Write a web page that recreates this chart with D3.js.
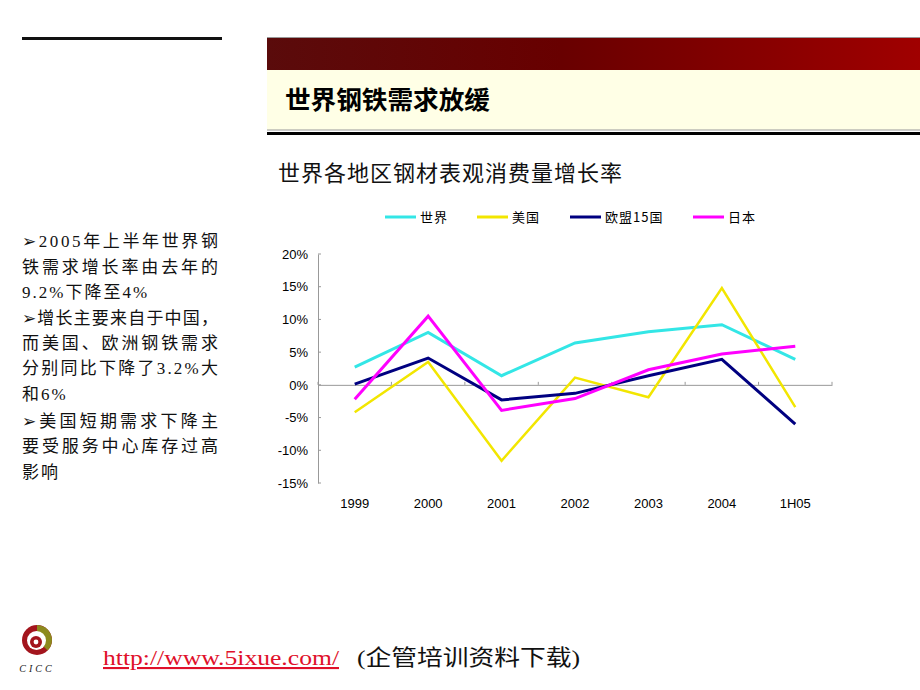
<!DOCTYPE html>
<html><head><meta charset="utf-8">
<script src="https://cdn.jsdelivr.net/npm/d3@7"></script>
<style>
html,body{margin:0;padding:0;background:#fff;}
svg{display:block;}
</style></head>
<body>
<svg id="c" width="920" height="690"></svg>
<script>
// ---- data ----
const categories = ["1999","2000","2001","2002","2003","2004","1H05"];
const seriesNames = ["世界","美国","欧盟15国","日本"];
const seriesColors = ["#33e6e6","#f2e600","#000080","#ff00ff"];
const world = [2.7, 8.0, 1.4, 6.4, 8.1, 9.2, 3.9];
const usa   = [-4.2, 3.5, -11.6, 1.1, -1.9, 14.8, -3.4];
const eu15  = [0.1, 4.1, -2.3, -1.3, 1.4, 3.9, -6.0];
const japan = [-2.2, 10.5, -3.9, -2.1, 2.3, 4.7, 5.9];
const yTicks = [20, 15, 10, 5, 0, -5, -10, -15];
const headerTitle = "世界钢铁需求放缓";
const chartTitle = "世界各地区钢材表观消费量增长率";
const bulletLines = [
  "➢2005年上半年世界钢",
  "铁需求增长率由去年的",
  "9.2%下降至4%",
  "➢增长主要来自于中国，",
  "而美国、欧洲钢铁需求",
  "分别同比下降了3.2%大",
  "和6%",
  "➢美国短期需求下降主",
  "要受服务中心库存过高",
  "影响"
];
const bulletFull = [true, true, false, true, true, true, false, true, true, false];
const bulletY = [247, 273, 298, 324, 349, 374, 400, 427, 452, 478];
const footerUrl = "http://www.5ixue.com/";
const footerNote = "(企管培训资料下载)";

const series = [world, usa, eu15, japan];

const svg = d3.select("#c");
const serifCJK = "'Liberation Serif','Noto Sans CJK SC',serif";
const sansCJK = "'Noto Sans CJK SC',sans-serif";

// ---- header ----
const defs = svg.append("defs");
const g1 = defs.append("linearGradient").attr("id","hdr").attr("x1","0").attr("x2","1");
g1.append("stop").attr("offset","0").attr("stop-color","#5a0b0b");
g1.append("stop").attr("offset","0.45").attr("stop-color","#680000");
g1.append("stop").attr("offset","1").attr("stop-color","#a00000");

svg.append("rect").attr("x",22).attr("y",37).attr("width",200).attr("height",3).attr("fill","#111");
svg.append("rect").attr("x",267).attr("y",37).attr("width",653).attr("height",1).attr("fill","#999");
svg.append("rect").attr("x",267).attr("y",38).attr("width",653).attr("height",32).attr("fill","url(#hdr)");
svg.append("rect").attr("x",267).attr("y",70).attr("width",653).attr("height",60).attr("fill","#ffffe6");
svg.append("rect").attr("x",267).attr("y",129.5).attr("width",653).attr("height",1).attr("fill","#999");
svg.append("rect").attr("x",267).attr("y",132).attr("width",653).attr("height",3).attr("fill","#000");
svg.append("text").attr("x",285).attr("y",109).attr("font-family",sansCJK)
  .attr("font-size",25).attr("font-weight","bold").attr("fill","#000")
  .attr("textLength",205).attr("lengthAdjust","spacingAndGlyphs").text(headerTitle);

// ---- chart title ----
svg.append("text").attr("x",278).attr("y",181).attr("font-family",sansCJK)
  .attr("font-size",22).attr("fill","#111")
  .attr("textLength",344).attr("lengthAdjust","spacing").text(chartTitle);

// ---- left bullet text ----
const bt = svg.append("g").attr("font-family",serifCJK).attr("font-size",17).attr("fill","#111");
bulletLines.forEach((s,i)=>{
  const t = bt.append("text").attr("x",22).attr("y",bulletY[i]).text(s);
  if (bulletFull[i]) t.attr("textLength",196).attr("lengthAdjust","spacing");
  else t.attr("letter-spacing","2px");
});

// ---- scales ----
const x = d3.scaleBand().domain(categories).range([318, 832]).padding(0);
const y = d3.scaleLinear().domain([-15, 20]).range([483, 254]);
const cx = d => x(d) + x.bandwidth()/2;

// y axis
const yAxis = svg.append("g").attr("transform","translate(318,0)")
  .call(d3.axisLeft(y).tickValues(yTicks).tickFormat(d=>d+"%").tickSize(0).tickPadding(10));
yAxis.select(".domain").attr("stroke","#999");
yAxis.selectAll("text").attr("font-family","'Liberation Sans',Arial,sans-serif").attr("font-size",13).attr("fill","#000");
svg.append("g").selectAll("line").data(yTicks).join("line")
  .attr("x1",318).attr("x2",321).attr("y1",d=>y(d)).attr("y2",d=>y(d)).attr("stroke","#999");

// x axis at zero
const xAxis = svg.append("g").attr("transform",`translate(0,${y(0)})`)
  .call(d3.axisBottom(x).tickSize(0).tickFormat(()=>""));
xAxis.select(".domain").attr("stroke","#999");
const bounds = categories.map(c=>x(c)).concat([x.range()[1]]);
svg.append("g").selectAll("line").data(bounds).join("line")
  .attr("x1",d=>d).attr("x2",d=>d).attr("y1",y(0)).attr("y2",y(0)-3).attr("stroke","#999");
svg.append("g").selectAll("text").data(categories).join("text")
  .attr("x",d=>cx(d)).attr("y",508).attr("text-anchor","middle")
  .attr("font-family","'Liberation Sans',Arial,sans-serif").attr("font-size",13).attr("fill","#000")
  .text(d=>d);

// lines
const line = d3.line().x((d,i)=>cx(categories[i])).y(d=>y(d));
series.forEach((s,i)=>{
  svg.append("path").datum(s).attr("d",line).attr("fill","none")
    .attr("stroke",seriesColors[i]).attr("stroke-width", i===1?2.5:3)
    .attr("stroke-linejoin","miter");
});

// legend
const legX = [385, 477, 570, 693];
const lg = svg.append("g");
seriesNames.forEach((n,i)=>{
  lg.append("line").attr("x1",legX[i]).attr("x2",legX[i]+31).attr("y1",217).attr("y2",217)
    .attr("stroke",seriesColors[i]).attr("stroke-width",3);
  lg.append("text").attr("x",legX[i]+35).attr("y",222).attr("font-family",sansCJK)
    .attr("font-size",13).attr("letter-spacing","1px").attr("fill","#000").text(n);
});

// ---- footer logo ----
const logo = svg.append("g").attr("transform","translate(37,640)");
logo.append("circle").attr("r",15).attr("fill","#a3151d");
logo.append("path").attr("d",d3.arc().innerRadius(0).outerRadius(15).startAngle(0).endAngle(Math.PI*0.75)()).attr("fill","#8c8a1e");
logo.append("circle").attr("r",9.5).attr("cx",-0.5).attr("cy",0.5).attr("fill","#fff");
logo.append("circle").attr("r",6).attr("cx",-1).attr("cy",2).attr("fill","#a3151d");
logo.append("circle").attr("r",2.4).attr("cx",-1).attr("cy",2).attr("fill","#fff");
svg.append("text").attr("x",37).attr("y",672).attr("text-anchor","middle")
  .attr("font-family","'Liberation Serif',serif").attr("font-style","italic").attr("font-size",10)
  .attr("letter-spacing","3px").attr("fill","#222").text("CICC");

// ---- footer text ----
svg.append("text").attr("x",103).attr("y",665).attr("font-family","'Liberation Serif',serif")
  .attr("font-size",21).attr("fill","#e0102a").attr("text-decoration","underline")
  .attr("textLength",236).attr("lengthAdjust","spacingAndGlyphs").text(footerUrl);
svg.append("text").attr("x",357).attr("y",665).attr("font-family",serifCJK)
  .attr("font-size",22).attr("fill","#111")
  .attr("textLength",223).attr("lengthAdjust","spacingAndGlyphs").text(footerNote);
</script>
</body></html>
